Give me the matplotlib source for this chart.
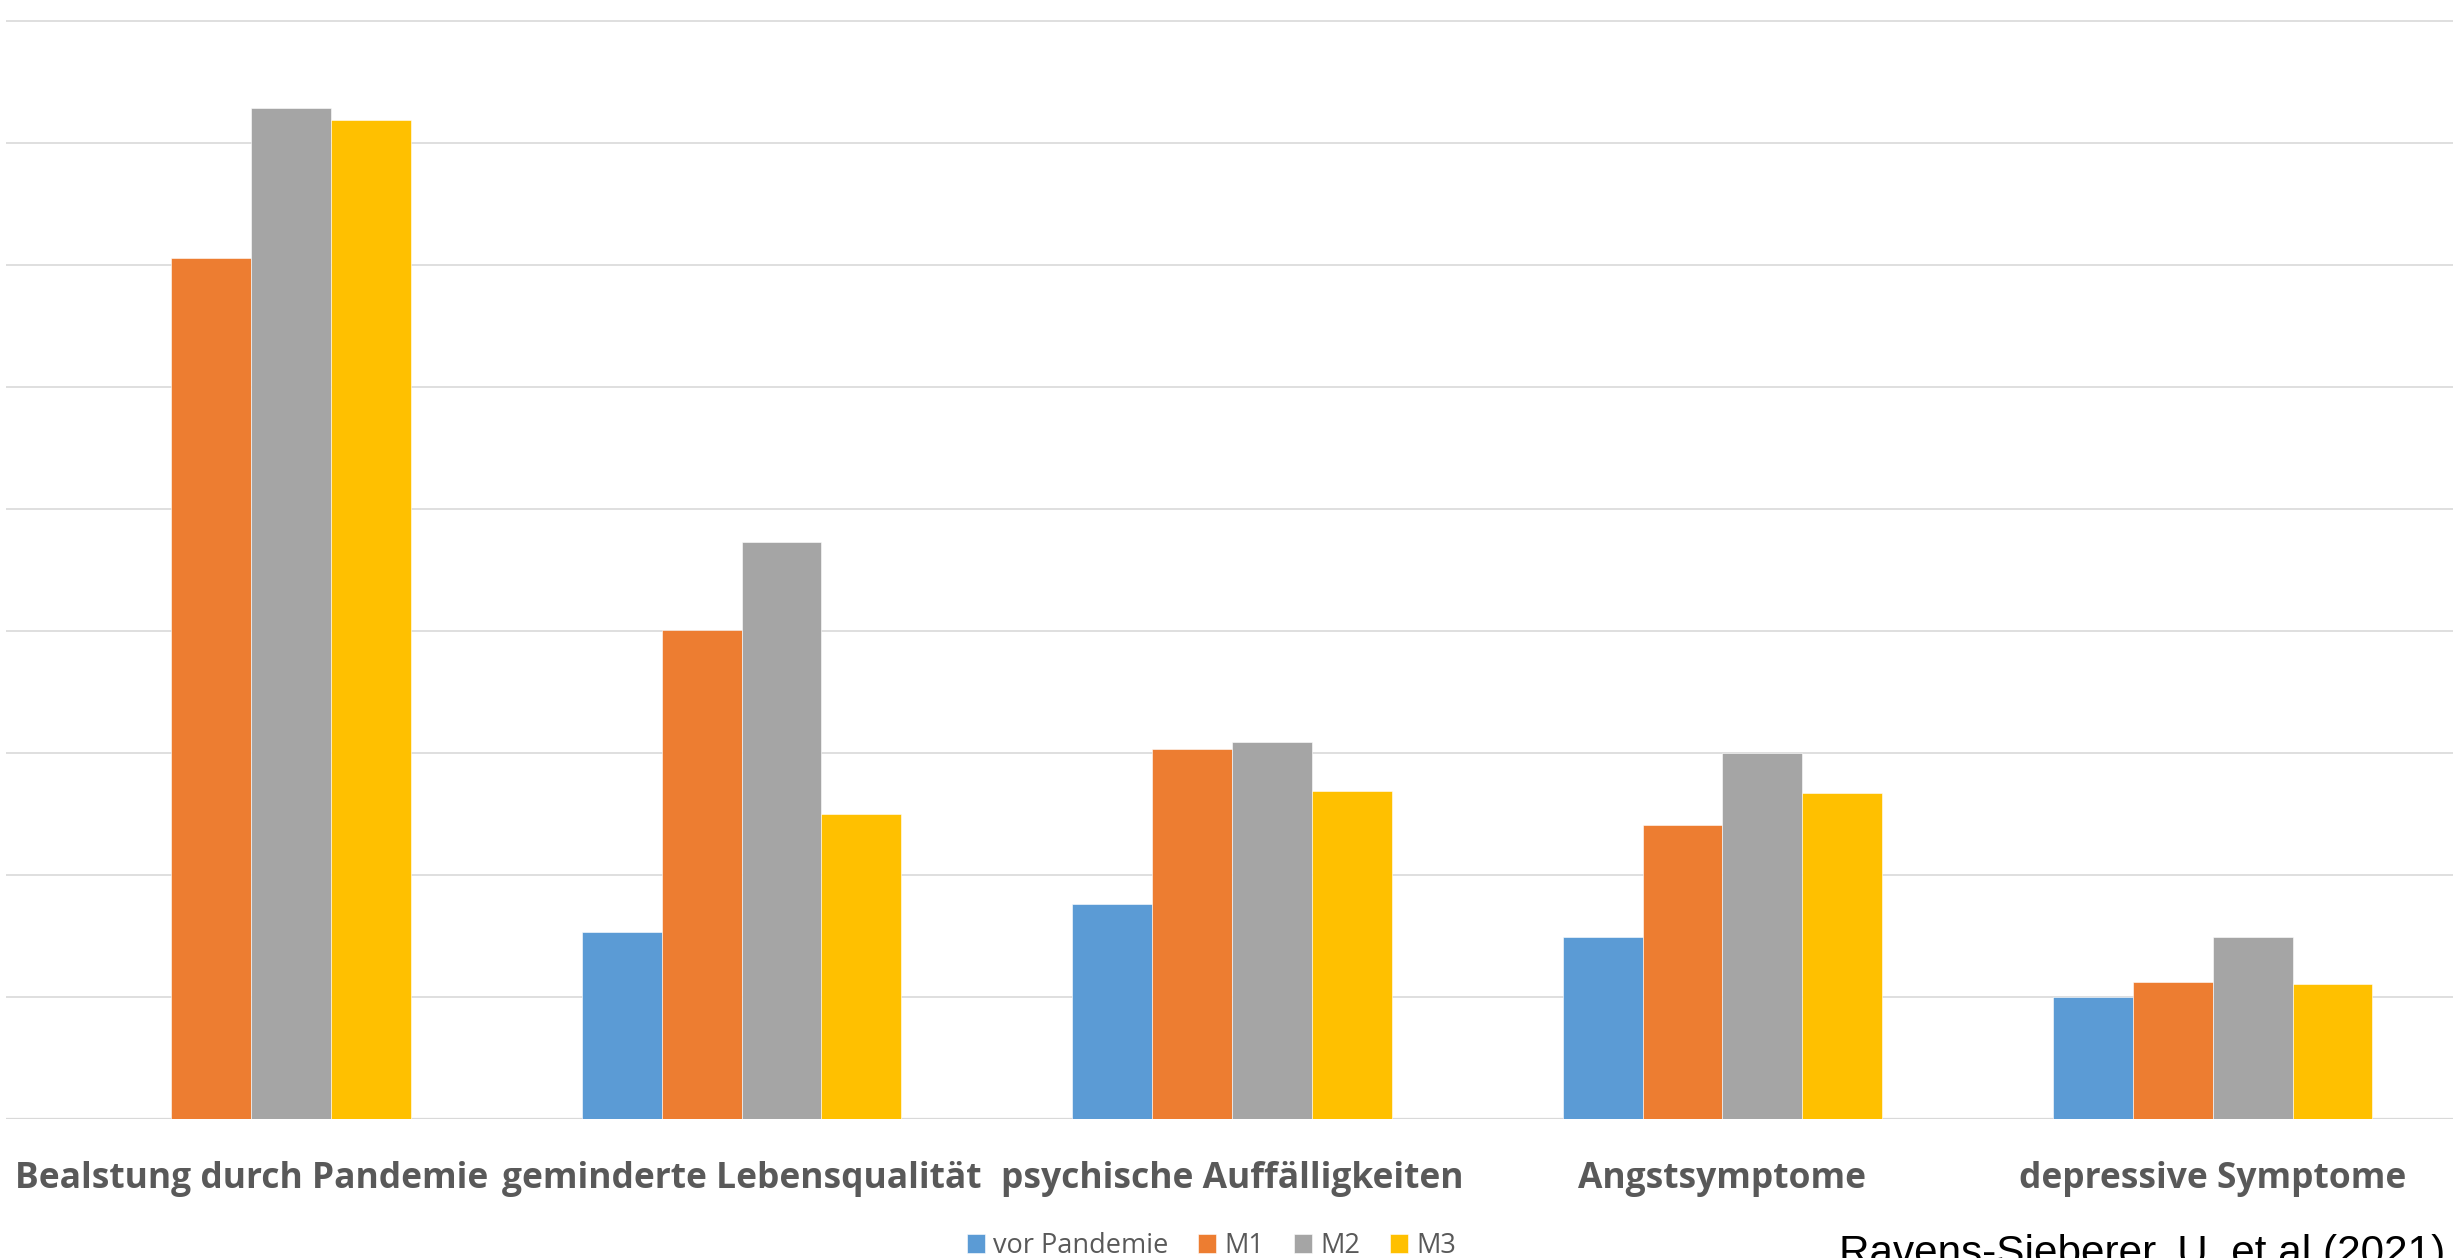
import matplotlib
matplotlib.use("Agg")
import matplotlib.pyplot as plt
import numpy as np

categories = ["Bealstung durch Pandemie", "geminderte Lebensqualität",
              "psychische Auffälligkeiten", "Angstsymptome", "depressive Symptome"]
series_names = ["vor Pandemie", "M1", "M2", "M3"]
vor_pandemie = [np.nan, 15.3, 17.6, 14.9, 10.0]
m1 = [70.6, 40.1, 30.3, 24.1, 11.2]
m2 = [82.9, 47.3, 30.9, 30.0, 14.9]
m3 = [81.9, 25.0, 26.9, 26.7, 11.1]
colors = ["#5B9BD5", "#ED7D31", "#A5A5A5", "#FFC000"]
citation = "Ravens-Sieberer, U. et al (2021)"

W, H = 2453, 1258
fig = plt.figure(figsize=(W / 100, H / 100), dpi=100)
ax = fig.add_axes([6 / W, (H - 1119) / H, 2452 / W, 91 * 12.2 / H])

x = np.arange(len(categories))
bw = 0.1627
for i, (vals, name) in enumerate(zip([vor_pandemie, m1, m2, m3], series_names)):
    ax.bar(x + (i - 1.5) * bw, vals, width=bw, color=colors[i], label=name,
           edgecolor="white", linewidth=0.4, zorder=3)

ax.set_xlim(-0.5, 4.5)
ax.set_ylim(0, 91)
ax.set_yticks(np.arange(0, 91, 10))
ax.yaxis.grid(True, color="#d9d9d9", linewidth=1.2, zorder=0)
ax.axhline(0, color="#d9d9d9", linewidth=1.6, zorder=2)
for s in ax.spines.values():
    s.set_visible(False)
ax.tick_params(axis="y", left=False, labelleft=False)
ax.tick_params(axis="x", bottom=False, pad=27)
ax.set_xticks(x)
ax.set_xticklabels(categories, fontfamily="Open Sans", fontweight="bold",
                   fontsize=25.5, color="#595959")

ax.legend(loc="center", bbox_to_anchor=(1211.5 / W, 12 / H), bbox_transform=fig.transFigure,
          ncol=4, frameon=False, borderpad=0, handlelength=0.67, handleheight=0.67,
          handletextpad=0.3, columnspacing=1.1,
          prop={"family": "Open Sans", "size": 19.5}, labelcolor="#595959")

fig.text(1839 / W, -7 / H, citation, fontfamily="Liberation Sans", fontsize=30.4,
         color="black", va="baseline", ha="left")

fig.savefig("out.png", dpi=100)
